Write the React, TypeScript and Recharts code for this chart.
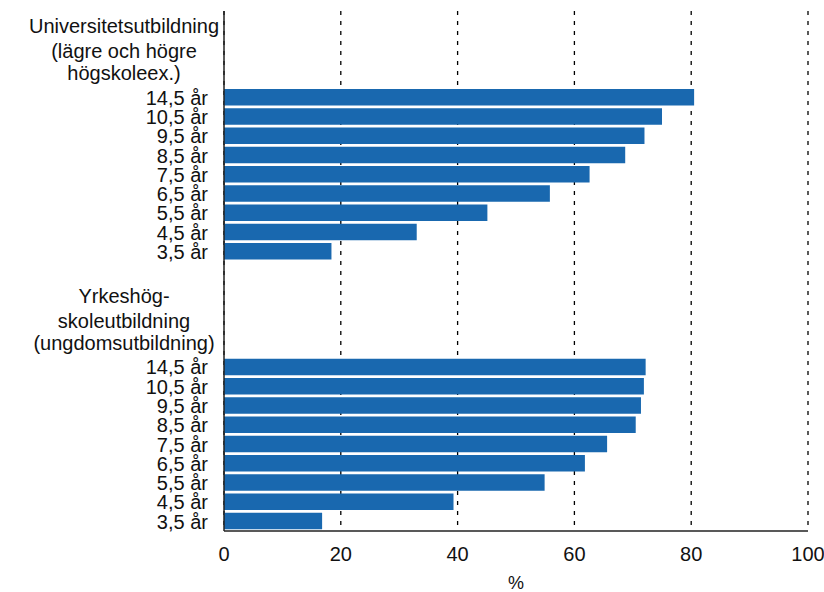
import React from 'react';
import { BarChart, Bar, XAxis, YAxis, CartesianGrid } from 'recharts';

const ageLabels = ['14,5 år', '10,5 år', '9,5 år', '8,5 år', '7,5 år', '6,5 år', '5,5 år', '4,5 år', '3,5 år'];
const universityValues = [80.5, 75.0, 72.0, 68.7, 62.6, 55.8, 45.1, 33.0, 18.4];
const vocationalValues = [72.2, 71.9, 71.4, 70.5, 65.6, 61.8, 54.9, 39.3, 16.8];
const universityHeader = ['Universitetsutbildning', '(lägre och högre', 'högskoleex.)'];
const vocationalHeader = ['Yrkeshög-', 'skoleutbildning', '(ungdomsutbildning)'];
const xTicks = [0, 20, 40, 60, 80, 100];
const xLabel = '%';

type Row = { label: string; value: number | null; header?: string[] };

const blank = (k: string): Row => ({ label: k, value: null });

const rows: Row[] = [
  blank(' '),
  blank('  '),
  blank('   '),
  { label: universityHeader.join(' '), value: null, header: universityHeader },
  ...ageLabels.map((a, i) => ({ label: a, value: universityValues[i] })),
  blank('    '),
  blank('     '),
  blank('      '),
  blank('       '),
  { label: vocationalHeader.join(' '), value: null, header: vocationalHeader },
  ...ageLabels.map((a, i) => ({ label: a, value: vocationalValues[i] })),
];

const FONT = '"Liberation Sans", Arial, sans-serif';
const TEXT = '#111';

const YTick = (props: any) => {
  const { x, y, index } = props;
  const row = rows[index];
  if (!row) return null;
  if (row.header) {
    const offsets = [-45, -20, 2];
    return (
      <g>
        {row.header.map((line, i) => (
          <text key={i} x={124} y={y + offsets[i]} textAnchor="middle" fontSize={20} fontFamily={FONT} fill={TEXT}>
            {line}
          </text>
        ))}
      </g>
    );
  }
  if (row.value === null) return null;
  return (
    <text x={x} y={y} dy="0.36em" textAnchor="end" fontSize={20} fontFamily={FONT} fill={TEXT}>
      {row.label}
    </text>
  );
};

const XTick = (props: any) => {
  const { x, y, payload } = props;
  return (
    <text x={x} y={y + 16} dy="0.71em" textAnchor="middle" fontSize={20} fontFamily={FONT} fill={TEXT}>
      {payload.value}
    </text>
  );
};

export default function App() {
  return (
    <div style={{ position: 'absolute', left: 0, top: 0, width: 824, height: 592, background: '#fff' }}>
      <BarChart
        width={824}
        height={592}
        layout="vertical"
        data={rows}
        margin={{ top: 11, right: 16, bottom: 0, left: 0 }}
      >
        <CartesianGrid horizontal={false} vertical={true} stroke="#000" strokeDasharray="4 6" strokeWidth={1.3} />
        <XAxis
          type="number"
          domain={[0, 100]}
          ticks={xTicks}
          height={61}
          tickLine={false}
          tickSize={0}
          tickMargin={0}
          axisLine={{ stroke: '#222', strokeWidth: 1.5 }}
          tick={(p: any) => <XTick {...p} />}
          label={{ value: xLabel, position: 'insideBottom', offset: 3, fontSize: 18, fontFamily: FONT, fill: TEXT }}
        />
        <YAxis
          type="category"
          dataKey="label"
          width={224}
          interval={0}
          tickLine={false}
          tickSize={0}
          tickMargin={16}
          axisLine={{ stroke: '#222', strokeWidth: 1.5 }}
          tick={(p: any) => <YTick {...p} />}
        />
        <Bar dataKey="value" fill="#1968af" barSize={16.5} isAnimationActive={false} />
      </BarChart>
    </div>
  );
}
